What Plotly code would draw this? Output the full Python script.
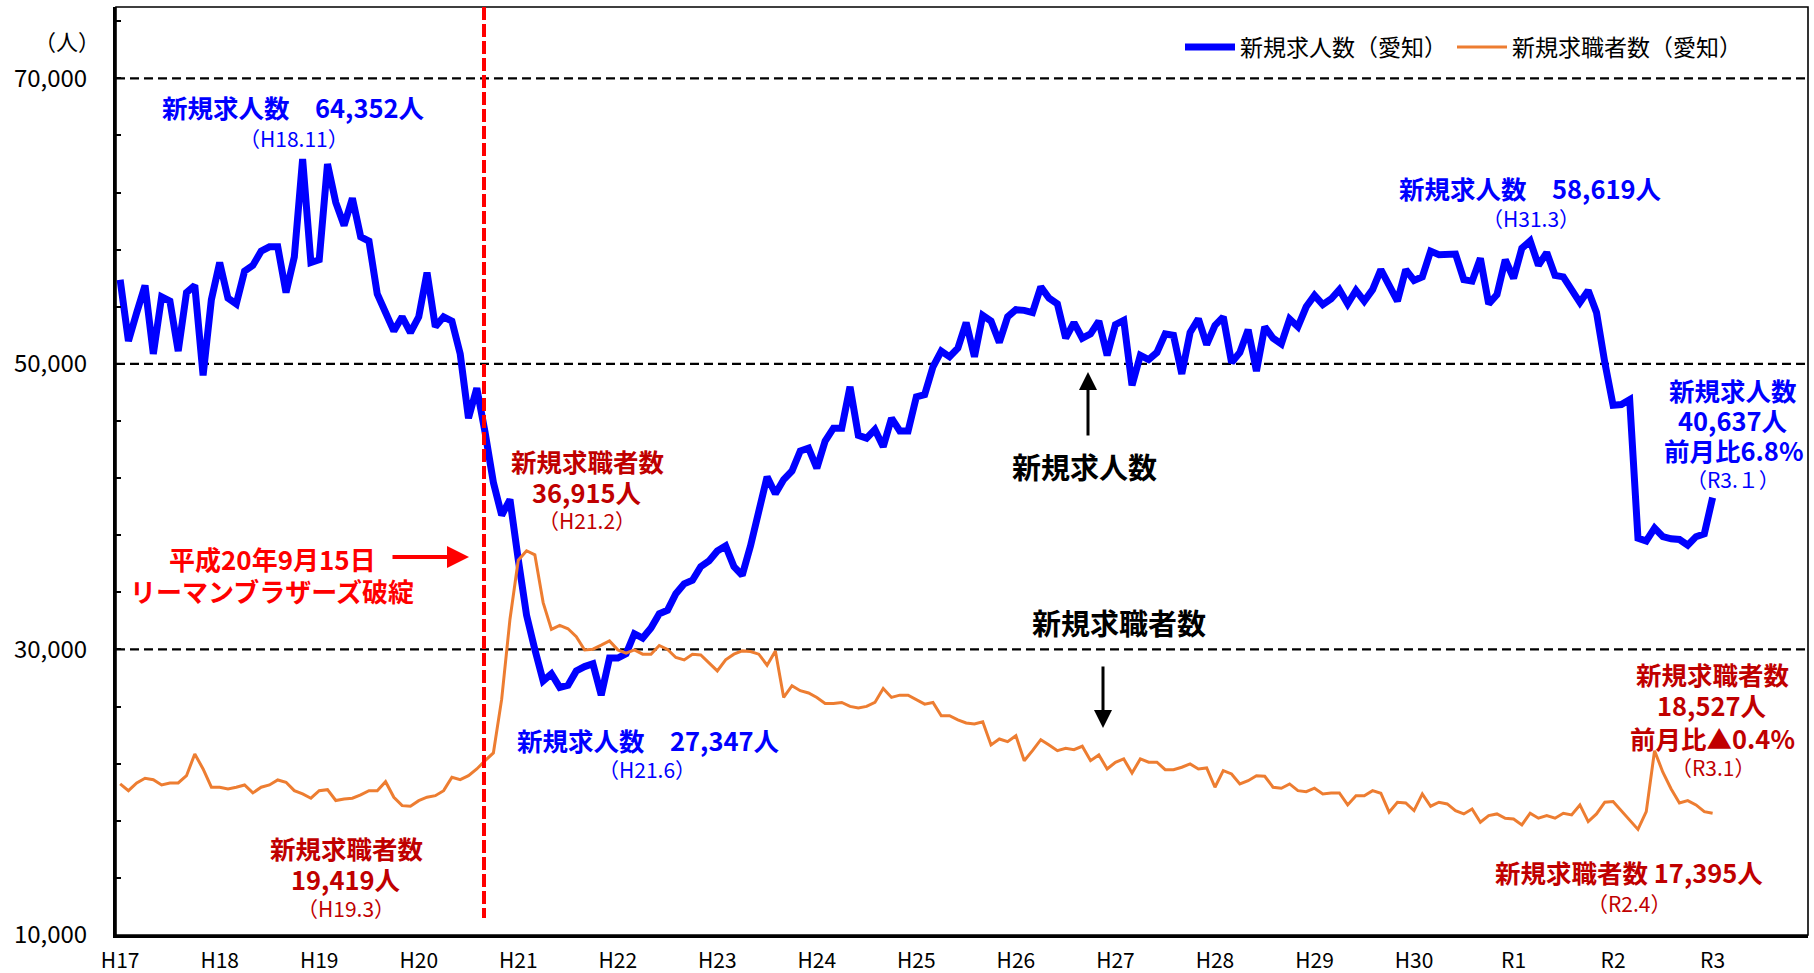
import plotly.graph_objects as go

# ---------------- data (monthly, H17.1 .. R3.1) ----------------
new_openings = [  # 新規求人数（愛知）
    55900, 51600, 53600, 55500, 50700, 54700, 54400, 50900, 55000, 55500, 49200, 54500,
    57100, 54600, 54200, 56500, 56900, 57900, 58200, 58200, 55000, 57500, 64352, 57100,
    57300, 64000, 61300, 59700, 61600, 58900, 58600, 54900, 53600, 52300, 53300, 52200,
    53300, 56400, 52600, 53300, 53000, 50700, 46200, 48300, 45200, 41700, 39400, 40500,
    36300, 32400, 30000, 27800, 28300, 27347, 27500, 28500, 28800, 29000, 26800, 29400,
    29400, 29700, 31100, 30800, 31500, 32500, 32750, 33900, 34600, 34850, 35800, 36200,
    36900, 37250, 35800, 35200, 37250, 39800, 42100, 40900, 41900, 42500, 43900, 44100,
    42700, 44600, 45500, 45500, 48400, 45000, 44800, 45400, 44200, 46200, 45300, 45300,
    47700, 47850, 49800, 50900, 50500, 51100, 52900, 50500, 53400, 53000, 51500, 53300,
    53800, 53750, 53600, 55400, 54600, 54200, 51800, 52900, 51800, 52100, 53000, 50600,
    52750, 53050, 48500, 50600, 50300, 50800, 52100, 52000, 49300, 52200, 53150, 51350,
    52700, 53300, 50100, 50800, 52400, 49500, 52600, 51800, 51400, 53150, 52600, 54000,
    54800, 54150, 54550, 55200, 54200, 55150, 54400, 55200, 56600, 55500, 54400, 56600,
    55850, 56100, 57900, 57650, 57650, 57700, 55900, 55800, 57400, 54200, 54850, 57300,
    56000, 58100, 58619, 56900, 57800, 56200, 56100, 55200, 54300, 55150, 53600, 50100,
    47100, 47150, 47500, 37800, 37600, 38500, 37900, 37750, 37700, 37300, 37900, 38100,
    40637,
]
new_applicants = [  # 新規求職者数（愛知）
    20580, 20110, 20650, 20980, 20880, 20510, 20650, 20650, 21160, 22680, 21630, 20350,
    20350, 20230, 20350, 20510, 19950, 20350, 20510, 20860, 20700, 20110, 19880, 19580,
    20110, 20180, 19419, 19530, 19580, 19810, 20110, 20110, 20740, 19650, 19060, 19020,
    19410, 19650, 19760, 20110, 21050, 20880, 21160, 21630, 22210, 22750, 26520, 32120,
    36250, 36915, 36630, 33280, 31400, 31680, 31450, 30900, 29960, 30020, 30300, 30600,
    29970, 29740, 29970, 29670, 29670, 30280, 30000, 29440, 29270, 29670, 29620, 29090,
    28500, 29270, 29670, 29900, 29860, 29670, 28900, 29900, 26640, 27460, 27110, 26950,
    26640, 26220, 26220, 26290, 26010, 25900, 26010, 26290, 27270, 26640, 26800, 26800,
    26480, 26170, 26290, 25360, 25360, 25070, 24850, 24780, 24940, 23310, 23730, 23540,
    23960, 22210, 22910, 23680, 23310, 22910, 23080, 22980, 23220, 22210, 22610, 21630,
    22100, 22330, 21350, 22330, 22100, 22100, 21580, 21580, 21750, 21980, 21630, 21700,
    20350, 21510, 21280, 20580, 20810, 21160, 21120, 20350, 20280, 20580, 20110, 20040,
    20280, 19880, 19950, 19950, 19110, 19760, 19760, 20110, 19930, 18600, 19300, 19250,
    18710, 19880, 19020, 19300, 19180, 18710, 18480, 18830, 17900, 18360, 18480, 18180,
    18130, 17710, 18530, 18180, 18360, 18180, 18530, 18410, 19110, 17940, 18480, 19300,
    19350, 18710, 18080, 17395, 18640, 22910, 21400, 20230, 19250, 19410, 19110, 18640,
    18527,
]
year_labels = ["H17", "H18", "H19", "H20", "H21", "H22", "H23", "H24", "H25", "H26",
               "H27", "H28", "H29", "H30", "R1", "R2", "R3"]
y_label_values = [10000, 30000, 50000, 70000]
grid_values = [30000, 50000, 70000]
series_names = ["新規求人数（愛知）", "新規求職者数（愛知）"]

month_index = list(range(len(new_openings)))
year_ticks = [12 * k for k in range(len(year_labels))]
y_ticks = list(range(10000, 75000, 4000))
y_ticktext = [f"{v:,}" if v in y_label_values else "" for v in y_ticks]

# ---------------- layout geometry (window pixels) ----------------
W, H = 1814, 973
L, R, T, B = 116, 1808, 7, 935
def px(x):
    return (x - L) / (R - L)
def py(y):
    return (B - y) / (B - T)

FONT = "Noto Sans CJK JP"
BLUE = "#0000FF"
ORANGE = "#ED7D31"
DRED = "#C00000"
RED = "#FF0000"

fig = go.Figure()
fig.add_trace(go.Scatter(x=month_index, y=new_openings, mode="lines", name=series_names[0],
                         line=dict(color=BLUE, width=7)))
fig.add_trace(go.Scatter(x=month_index, y=new_applicants, mode="lines", name=series_names[1],
                         line=dict(color=ORANGE, width=3)))

shapes = []
for g in grid_values:
    shapes.append(dict(type="line", xref="paper", yref="y", x0=0, x1=1, y0=g, y1=g,
                       line=dict(color="black", width=2.2, dash="9px,5px"), layer="below"))
shapes.append(dict(type="rect", xref="paper", yref="paper", x0=0, x1=1, y0=0, y1=1,
                   line=dict(color="black", width=1.6), layer="above"))
shapes.append(dict(type="line", xref="paper", yref="paper", x0=px(484), x1=px(484),
                   y0=1, y1=py(918), line=dict(color=RED, width=4, dash="13px,4px"),
                   layer="above"))

ann = []
def txt(x, y, text, color, size, bold=True):
    ann.append(dict(xref="paper", yref="paper", x=px(x), y=py(y),
                    text=(f"<b>{text}</b>" if bold else text),
                    showarrow=False, xanchor="center", yanchor="middle",
                    font=dict(family=FONT, size=size, color=color)))

def arrow(xt, yt, ax, ay, color, width, size):
    ann.append(dict(xref="paper", yref="paper", x=px(xt), y=py(yt), text="", showarrow=True,
                    axref="pixel", ayref="pixel", ax=ax, ay=ay, arrowcolor=color,
                    arrowwidth=width, arrowhead=2, arrowsize=size, standoff=0, startstandoff=0))

MAIN = 25.5
SUB = 21

txt(67, 40, "（人）", "black", 22, bold=False)

txt(293, 107, "新規求人数　64,352人", BLUE, MAIN)
txt(294, 138, "（H18.11）", BLUE, SUB, bold=False)
txt(1530, 187, "新規求人数　58,619人", BLUE, MAIN)
txt(1531, 218, "（H31.3）", BLUE, SUB, bold=False)
txt(1733, 389, "新規求人数", BLUE, MAIN)
txt(1733, 419, "40,637人", BLUE, MAIN)
txt(1733, 449, "前月比6.8%", BLUE, MAIN)
txt(1733, 479, "（R3.１）", BLUE, SUB, bold=False)
txt(648, 739, "新規求人数　27,347人", BLUE, MAIN)
txt(647, 769, "（H21.6）", BLUE, SUB, bold=False)

txt(587, 460, "新規求職者数", DRED, MAIN)
txt(587, 491, "36,915人", DRED, MAIN)
txt(587, 520, "（H21.2）", DRED, SUB, bold=False)
txt(346, 847, "新規求職者数", DRED, MAIN)
txt(346, 878, "19,419人", DRED, MAIN)
txt(346, 908, "（H19.3）", DRED, SUB, bold=False)
txt(1712, 673, "新規求職者数", DRED, MAIN)
txt(1712, 704, "18,527人", DRED, MAIN)
txt(1712, 737, "前月比▲0.4%", DRED, MAIN)
txt(1713, 767, "（R3.1）", DRED, SUB, bold=False)
txt(1629, 871, "新規求職者数 17,395人", DRED, MAIN)
txt(1629, 903, "（R2.4）", DRED, SUB, bold=False)

txt(272, 558, "平成20年9月15日", RED, 26)
txt(272, 590, "リーマンブラザーズ破綻", RED, 26)
arrow(469, 557, -78, 0, RED, 4, 1.1)

txt(1084, 466, "新規求人数", "black", 29)
arrow(1088, 372, 0, 65, "black", 3, 1.2)
txt(1119, 622, "新規求職者数", "black", 29)
arrow(1103, 728, 0, -63, "black", 3, 1.2)

fig.update_layout(
    width=W, height=H,
    margin=dict(l=L, r=W - R, t=T, b=H - B, pad=0, autoexpand=False),
    paper_bgcolor="white", plot_bgcolor="white",
    font=dict(family=FONT, color="black"),
    showlegend=True,
    legend=dict(orientation="h", x=px(1180), y=py(47), xanchor="left", yanchor="middle",
                font=dict(family=FONT, size=23, color="black"), bgcolor="rgba(0,0,0,0)",
                itemwidth=50, tracegroupgap=0),
    shapes=shapes, annotations=ann,
    xaxis=dict(range=[-0.5, 203.5], tickmode="array", tickvals=year_ticks, ticktext=year_labels,
               showgrid=False, zeroline=False, showline=True, linecolor="black", linewidth=3,
               ticks="", tickfont=dict(family=FONT, size=21, color="black"),
               ticklabelstandoff=5, automargin=False),
    yaxis=dict(range=[10000, 75000], tickmode="array", tickvals=y_ticks, ticktext=y_ticktext,
               showgrid=False, zeroline=False, showline=True, linecolor="black", linewidth=3,
               ticks="inside", ticklen=5, tickwidth=2, tickcolor="black",
               tickfont=dict(family=FONT, size=24, color="black"), ticklabelstandoff=21,
               automargin=False),
)

# remove the page's default 8px body margin so the figure fills the window exactly
fig.write_html("out.html", config={"displayModeBar": False},
               post_script="document.body.style.margin='0px';document.body.style.overflow='hidden';")
